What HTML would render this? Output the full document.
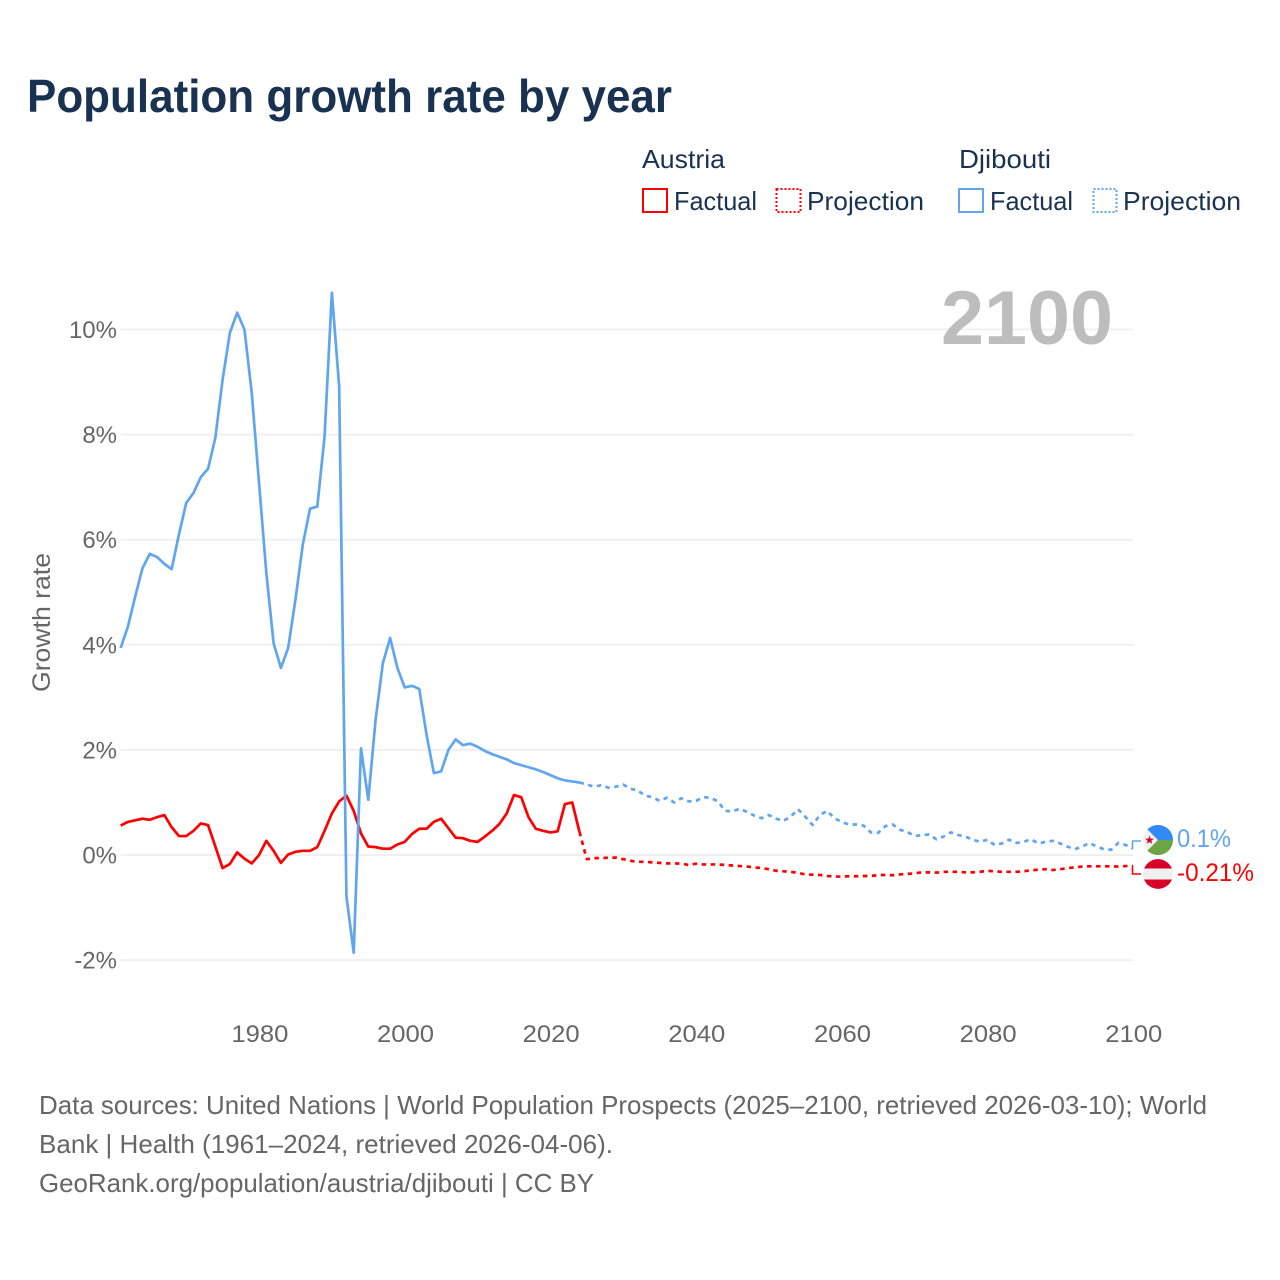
<!DOCTYPE html>
<html lang="en">
<head>
<meta charset="utf-8">
<title>Population growth rate by year</title>
<style>
html,body{margin:0;padding:0;background:#fff;width:1280px;height:1280px;overflow:hidden}
svg{display:block}
text{font-family:"Liberation Sans",sans-serif}
</style>
</head>
<body>
<svg id="chart" width="1280" height="1280" viewBox="0 0 1280 1280" xmlns="http://www.w3.org/2000/svg">
  <rect x="0" y="0" width="1280" height="1280" fill="#fff"/>
  <text x="27" y="112" font-size="46" font-weight="700" fill="#1a3252" textLength="645" lengthAdjust="spacingAndGlyphs">Population growth rate by year</text>

  <g font-size="26" fill="#1a3252">
    <text x="642" y="168" textLength="83" lengthAdjust="spacingAndGlyphs">Austria</text>
    <text x="959" y="168" textLength="92" lengthAdjust="spacingAndGlyphs">Djibouti</text>
    <g>
      <rect x="643" y="189" width="24" height="23" fill="none" stroke="#ff0000" stroke-width="2"/>
      <text x="674" y="210" textLength="83" lengthAdjust="spacingAndGlyphs">Factual</text>
    </g>
    <g>
      <rect x="776.5" y="189" width="24" height="23" fill="none" stroke="#ff0000" stroke-width="2" stroke-dasharray="2 2"/>
      <text x="807" y="210" textLength="117" lengthAdjust="spacingAndGlyphs">Projection</text>
    </g>
    <g>
      <rect x="959" y="189" width="24" height="23" fill="none" stroke="#60a5f0" stroke-width="2"/>
      <text x="990" y="210" textLength="83" lengthAdjust="spacingAndGlyphs">Factual</text>
    </g>
    <g>
      <rect x="1093.5" y="189" width="23" height="23" fill="none" stroke="#60a5f0" stroke-width="2" stroke-dasharray="2 2"/>
      <text x="1123" y="210" textLength="118" lengthAdjust="spacingAndGlyphs">Projection</text>
    </g>
  </g>

  <g id="grid"></g>
  <text x="941" y="344" font-size="76" font-weight="700" fill="#bdbdbd" textLength="172" lengthAdjust="spacingAndGlyphs">2100</text>
  <g id="yticks"></g>
  <g id="xticks"></g>
  <text transform="translate(50,622.5) rotate(-90)" text-anchor="middle" font-size="25" fill="#666" textLength="139" lengthAdjust="spacingAndGlyphs">Growth rate</text>
  <g id="series"></g>

  <polyline points="1132.5,849 1132.5,841 1141,841" fill="none" stroke="#60a5f0" stroke-width="1.6"/>
  <polyline points="1132.5,866 1132.5,874 1141,874" fill="none" stroke="#ff0000" stroke-width="1.6"/>

  <g>
    <circle cx="1158" cy="840" r="15" fill="#f0f0f0"/>
    <path d="M1158 840 L1147.4 829.4 A15 15 0 0 1 1173 840 Z" fill="#338af3"/>
    <path d="M1158 840 L1173 840 A15 15 0 0 1 1147.4 850.6 Z" fill="#6da544"/>
    <polygon points="1149.5,835.6 1150.6,838.6 1153.8,838.7 1151.3,840.7 1152.2,843.8 1149.5,842 1146.8,843.8 1147.7,840.7 1145.2,838.7 1148.4,838.6" fill="#d80027"/>
  </g>
  <g>
    <circle cx="1158" cy="874" r="15" fill="#f0f0f0"/>
    <path d="M1144.1 868.5 A15 15 0 0 1 1171.9 868.5 Z" fill="#d80027"/>
    <path d="M1144.1 879.5 A15 15 0 0 0 1171.9 879.5 Z" fill="#d80027"/>
  </g>
  <text x="1177" y="847" font-size="25" fill="#60a5f0" textLength="54" lengthAdjust="spacingAndGlyphs">0.1%</text>
  <text x="1177" y="881" font-size="25" fill="#ff0000" textLength="77" lengthAdjust="spacingAndGlyphs">-0.21%</text>

  <g font-size="26" fill="#666">
    <text x="39" y="1114" textLength="1168" lengthAdjust="spacingAndGlyphs">Data sources: United Nations | World Population Prospects (2025–2100, retrieved 2026-03-10); World</text>
    <text x="39" y="1153" textLength="574" lengthAdjust="spacingAndGlyphs">Bank | Health (1961–2024, retrieved 2026-04-06).</text>
    <text x="39" y="1192" textLength="555" lengthAdjust="spacingAndGlyphs">GeoRank.org/population/austria/djibouti | CC BY</text>
  </g>
</svg>
<script>
const firstYear = 1961;
const lastFactualYear = 2024;
const yTickValues = [-2, 0, 2, 4, 6, 8, 10];
const yTickLabels = ["-2%", "0%", "2%", "4%", "6%", "8%", "10%"];
const xTickValues = [1980, 2000, 2020, 2040, 2060, 2080, 2100];
const xTickLabels = ["1980", "2000", "2020", "2040", "2060", "2080", "2100"];

const austriaFactual = [
  0.56,0.63,0.66,0.69,0.67,0.72,0.76,0.53,0.36,0.36,
  0.46,0.60,0.57,0.16,-0.25,-0.17,0.05,-0.07,-0.16,0.00,
  0.27,0.08,-0.15,0.01,0.06,0.08,0.08,0.15,0.46,0.79,
  1.02,1.13,0.84,0.41,0.16,0.15,0.12,0.12,0.20,0.25,
  0.40,0.50,0.50,0.63,0.69,0.51,0.33,0.32,0.27,0.25,
  0.35,0.46,0.59,0.79,1.14,1.10,0.72,0.50,0.46,0.43,
  0.45,0.97,1.00,0.44
];
const austriaProjection = [
  -0.08,-0.06,-0.06,-0.05,-0.05,-0.08,-0.11,-0.13,-0.13,-0.14,
  -0.15,-0.16,-0.16,-0.165,-0.19,-0.165,-0.18,-0.18,-0.18,-0.19,
  -0.20,-0.21,-0.22,-0.235,-0.25,-0.27,-0.30,-0.31,-0.32,-0.34,
  -0.37,-0.375,-0.38,-0.40,-0.41,-0.41,-0.405,-0.405,-0.40,-0.40,
  -0.38,-0.38,-0.385,-0.37,-0.36,-0.35,-0.33,-0.33,-0.335,-0.32,
  -0.32,-0.32,-0.33,-0.33,-0.32,-0.30,-0.31,-0.32,-0.32,-0.32,
  -0.31,-0.29,-0.28,-0.27,-0.285,-0.27,-0.25,-0.235,-0.22,-0.215,
  -0.215,-0.215,-0.215,-0.22,-0.21,-0.21
];
const djiboutiFactual = [
  3.94,4.35,4.92,5.46,5.73,5.67,5.54,5.44,6.10,6.70,
  6.89,7.19,7.35,7.94,9.05,9.94,10.32,10.00,8.79,7.08,
  5.37,4.03,3.56,3.94,4.86,5.90,6.59,6.63,7.97,10.70,
  8.92,-0.79,-1.86,2.03,1.05,2.57,3.65,4.13,3.56,3.19,
  3.22,3.16,2.29,1.56,1.59,2.00,2.20,2.09,2.12,2.06,
  1.98,1.92,1.87,1.82,1.75,1.71,1.67,1.63,1.58,1.52,
  1.46,1.42,1.40,1.38
];
const djiboutiProjection = [
  1.34,1.30,1.33,1.28,1.30,1.34,1.26,1.23,1.13,1.10,
  1.03,1.09,1.00,1.08,1.02,1.03,1.10,1.09,1.02,0.84,
  0.83,0.88,0.82,0.75,0.70,0.76,0.69,0.65,0.73,0.87,
  0.73,0.57,0.76,0.84,0.70,0.63,0.58,0.58,0.56,0.43,
  0.42,0.55,0.58,0.48,0.44,0.36,0.38,0.39,0.30,0.35,
  0.43,0.38,0.35,0.29,0.25,0.29,0.19,0.22,0.29,0.23,
  0.25,0.30,0.22,0.25,0.27,0.22,0.16,0.11,0.16,0.23,
  0.16,0.11,0.10,0.23,0.19,0.12
];

const SVGNS = "http://www.w3.org/2000/svg";
function xScale(year){ return 1133 + (year - 2100) * 7.283; }
function yScale(value){ return 855 - value * 52.55; }
function pointsFrom(values, startYear){
  return values.map(function(v, i){ return xScale(startYear + i).toFixed(2) + "," + yScale(v).toFixed(2); }).join(" ");
}

const gridGroup = document.getElementById("grid");
const yGroup = document.getElementById("yticks");
yTickValues.forEach(function(v, i){
  const line = document.createElementNS(SVGNS, "line");
  
  
  line.setAttribute("x1", xScale(firstYear));
  line.setAttribute("x2", xScale(2100));
  line.setAttribute("y1", yScale(v));
  line.setAttribute("y2", yScale(v));
  line.setAttribute("stroke", "#f0f0f0");
  line.setAttribute("stroke-width", "2");
  gridGroup.appendChild(line);
  const label = document.createElementNS(SVGNS, "text");
  
  
  label.setAttribute("x", 117);
  label.setAttribute("y", yScale(v) + 8.5);
  label.setAttribute("text-anchor", "end");
  label.setAttribute("font-size", "24");
  label.setAttribute("fill", "#666");
  label.textContent = yTickLabels[i];
  yGroup.appendChild(label);
});

const xGroup = document.getElementById("xticks");
xTickValues.forEach(function(v, i){
  const label = document.createElementNS(SVGNS, "text");
  
  
  label.setAttribute("x", xScale(v) + 0.8);
  label.setAttribute("y", 1042);
  label.setAttribute("text-anchor", "middle");
  label.setAttribute("font-size", "24");
  label.setAttribute("fill", "#666");
  label.setAttribute("textLength", "57");
  label.setAttribute("lengthAdjust", "spacingAndGlyphs");
  label.textContent = xTickLabels[i];
  xGroup.appendChild(label);
});

const seriesGroup = document.getElementById("series");
function addProjection(factual, projection, color, name){
  const line = document.createElementNS(SVGNS, "polyline");
  
  
  const joined = [factual[factual.length - 1]].concat(projection);
  line.setAttribute("points", pointsFrom(joined, lastFactualYear));
  line.setAttribute("fill", "none");
  line.setAttribute("stroke", color);
  line.setAttribute("stroke-width", "2.7");
  line.setAttribute("stroke-dasharray", "4.5 4.5");
  line.setAttribute("stroke-linejoin", "round");
  seriesGroup.appendChild(line);
}
function addFactual(values, color, name){
  const line = document.createElementNS(SVGNS, "polyline");
  
  
  line.setAttribute("points", pointsFrom(values, firstYear));
  line.setAttribute("fill", "none");
  line.setAttribute("stroke", color);
  line.setAttribute("stroke-width", "2.7");
  line.setAttribute("stroke-linejoin", "round");
  seriesGroup.appendChild(line);
}
addFactual(austriaFactual, "#ff0000", "austria-factual-line");
addProjection(austriaFactual, austriaProjection, "#ff0000", "austria-projection-line");
addFactual(djiboutiFactual, "#60a5f0", "djibouti-factual-line");
addProjection(djiboutiFactual, djiboutiProjection, "#60a5f0", "djibouti-projection-line");
</script>
</body>
</html>
